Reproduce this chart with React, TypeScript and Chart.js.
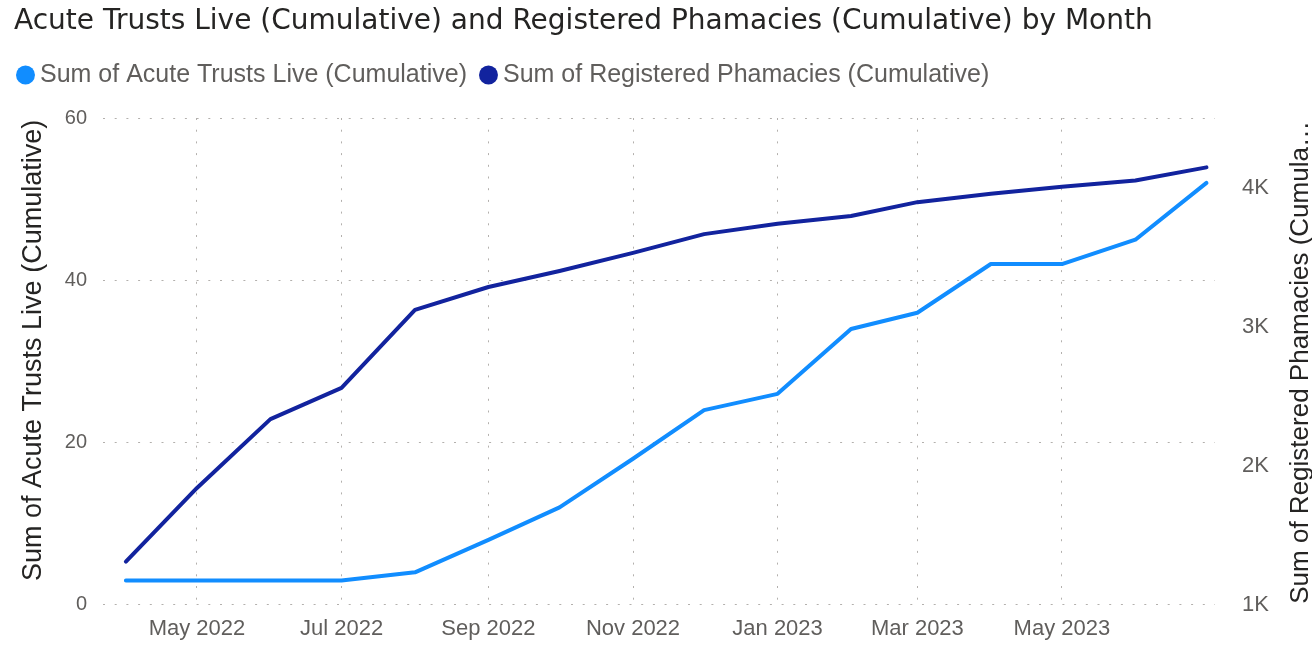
import React, { useEffect, useRef } from "react";
import { Chart, registerables } from "chart.js";

Chart.register(...registerables);

// ---------- data ----------
const MONTHS = [
  "2022-04", "2022-05", "2022-06", "2022-07", "2022-08", "2022-09", "2022-10", "2022-11",
  "2022-12", "2023-01", "2023-02", "2023-03", "2023-04", "2023-05", "2023-06", "2023-07",
];
const ACUTE_TRUSTS_LIVE = [3, 3, 3, 3, 4, 8, 12, 18, 24, 26, 34, 36, 42, 42, 45, 52];
const REGISTERED_PHARMACIES = [
  1310, 1840, 2335, 2560, 3120, 3285, 3400, 3530, 3665, 3740, 3795, 3895, 3955, 4005, 4050, 4145,
];
const X_TICK_MONTHS = ["2022-05", "2022-07", "2022-09", "2022-11", "2023-01", "2023-03", "2023-05"];
const X_TICK_LABELS = ["May 2022", "Jul 2022", "Sep 2022", "Nov 2022", "Jan 2023", "Mar 2023", "May 2023"];
const LEFT_TICKS = [0, 20, 40, 60];
const RIGHT_TICKS = [1000, 2000, 3000, 4000];
const RIGHT_TICK_LABELS = ["1K", "2K", "3K", "4K"];

const TITLE = "Acute Trusts Live (Cumulative) and Registered Phamacies (Cumulative) by Month";
const SERIES_1 = "Sum of Acute Trusts Live (Cumulative)";
const SERIES_2 = "Sum of Registered Phamacies (Cumulative)";
const LEFT_AXIS_TITLE = "Sum of Acute Trusts Live (Cumulative)";
const RIGHT_AXIS_TITLE = "Sum of Registered Phamacies (Cumula\u2026";

// ---------- style ----------
const LIGHT = "#118DFF";
const DARK = "#12239E";
const GRID = "#B3B0AD";
const TICK_COLOR = "#605E5C";
const TITLE_COLOR = "#252423";
const SANS = '"Liberation Sans", Arial, sans-serif';

const START = Date.UTC(2022, 3, 1);
const dayOf = (m: string) => {
  const [y, mo] = m.split("-").map(Number);
  return (Date.UTC(y, mo - 1, 1) - START) / 86400000;
};

const tweaks = {
  id: "tweaks",
  beforeInit(chart: any) {
    const legend = chart.legend;
    if (legend) {
      const fit = legend.fit.bind(legend);
      legend.fit = () => {
        fit();
        legend.height += 20.5;
      };
    }
  },
  afterLayout(chart: any) {
    if (chart.titleBlock) chart.titleBlock.left = 14;
  },
  afterDraw(chart: any) {
    const { ctx, chartArea } = chart;
    const mid = (chartArea.top + chartArea.bottom) / 2;
    ctx.save();
    ctx.fillStyle = TITLE_COLOR;
    ctx.textAlign = "center";
    ctx.textBaseline = "middle";
    ctx.font = `27px ${SANS}`;
    ctx.translate(34, mid - 11);
    ctx.rotate(-Math.PI / 2);
    ctx.fillText(LEFT_AXIS_TITLE, 0, 0);
    ctx.restore();
    ctx.save();
    ctx.fillStyle = TITLE_COLOR;
    ctx.textAlign = "center";
    ctx.textBaseline = "middle";
    ctx.font = `26px ${SANS}`;
    ctx.translate(1301, mid + 1);
    ctx.rotate(-Math.PI / 2);
    ctx.fillText(RIGHT_AXIS_TITLE, 0, 0);
    ctx.restore();
  },
};

export default function App() {
  const ref = useRef<HTMLCanvasElement>(null);
  useEffect(() => {
    const xs = MONTHS.map(dayOf);
    const chart = new Chart(ref.current as HTMLCanvasElement, {
      type: "line",
      data: {
        datasets: [
          {
            label: SERIES_1,
            data: ACUTE_TRUSTS_LIVE.map((v, i) => ({ x: xs[i], y: v })),
            borderColor: LIGHT,
            backgroundColor: LIGHT,
            borderWidth: 4,
            pointRadius: 0,
            tension: 0,
            borderJoinStyle: "round",
            borderCapStyle: "round",
            yAxisID: "y",
          },
          {
            label: SERIES_2,
            data: REGISTERED_PHARMACIES.map((v, i) => ({ x: xs[i], y: v })),
            borderColor: DARK,
            backgroundColor: DARK,
            borderWidth: 4,
            pointRadius: 0,
            tension: 0,
            borderJoinStyle: "round",
            borderCapStyle: "round",
            yAxisID: "y1",
          },
        ],
      },
      options: {
        responsive: false,
        animation: false,
        devicePixelRatio: 1,
        layout: { padding: { left: 4, top: 0, right: 0, bottom: 0 } },
        plugins: {
          title: {
            display: true,
            text: TITLE,
            align: "start",
            color: TITLE_COLOR,
            font: { family: '"DejaVu Sans"', size: 28, weight: "normal" },
            padding: { top: 5, bottom: 4.4 },
          },
          legend: {
            display: true,
            position: "top",
            align: "start",
            labels: {
              usePointStyle: true,
              pointStyle: "circle",
              boxWidth: 4,
              boxHeight: 13.4,
              padding: 19.5,
              color: TICK_COLOR,
              font: { family: SANS, size: 25 },
              generateLabels: (c: any) =>
                Chart.defaults.plugins.legend.labels
                  .generateLabels(c)
                  .map((l: any) => ({ ...l, lineWidth: 0 })),
            },
          },
          tooltip: { enabled: false },
        },
        scales: {
          x: {
            type: "linear",
            min: -9.66,
            max: 459.6,
            afterFit: (s: any) => {
              s.height = 40;
            },
            afterBuildTicks: (s: any) => {
              s.ticks = X_TICK_MONTHS.map((m) => ({ value: dayOf(m) }));
            },
            ticks: {
              autoSkip: false,
              maxRotation: 0,
              padding: 11,
              color: TICK_COLOR,
              font: { family: SANS, size: 22 },
              callback: (_v: any, i: number) => X_TICK_LABELS[i],
            },
            grid: { color: GRID, lineWidth: 1, drawTicks: false },
            border: { display: false, dash: [2, 9.7] },
          },
          y: {
            type: "linear",
            position: "left",
            min: 0,
            max: 60,
            afterFit: (s: any) => {
              s.width = 99;
            },
            afterBuildTicks: (s: any) => {
              s.ticks = LEFT_TICKS.map((v) => ({ value: v }));
            },
            ticks: {
              padding: 16,
              color: TICK_COLOR,
              font: { family: SANS, size: 20 },
            },
            grid: { color: GRID, lineWidth: 1, drawTicks: false },
            border: { display: false, dash: [2, 9.7] },
          },
          y1: {
            type: "linear",
            position: "right",
            min: 1000,
            max: 4500,
            afterFit: (s: any) => {
              s.width = 97;
            },
            afterBuildTicks: (s: any) => {
              s.ticks = RIGHT_TICKS.map((v) => ({ value: v }));
            },
            ticks: {
              padding: 27,
              color: TICK_COLOR,
              font: { family: SANS, size: 22 },
              callback: (_v: any, i: number) => RIGHT_TICK_LABELS[i],
            },
            grid: { display: false, drawTicks: false },
            border: { display: false },
          },
        },
      },
      plugins: [tweaks],
    } as any);
    return () => chart.destroy();
  }, []);

  return (
    <div style={{ position: "absolute", left: 0, top: 0, width: 1312, height: 645, background: "#fff" }}>
      <canvas ref={ref} width={1312} height={645} style={{ display: "block", width: 1312, height: 645 }} />
    </div>
  );
}
